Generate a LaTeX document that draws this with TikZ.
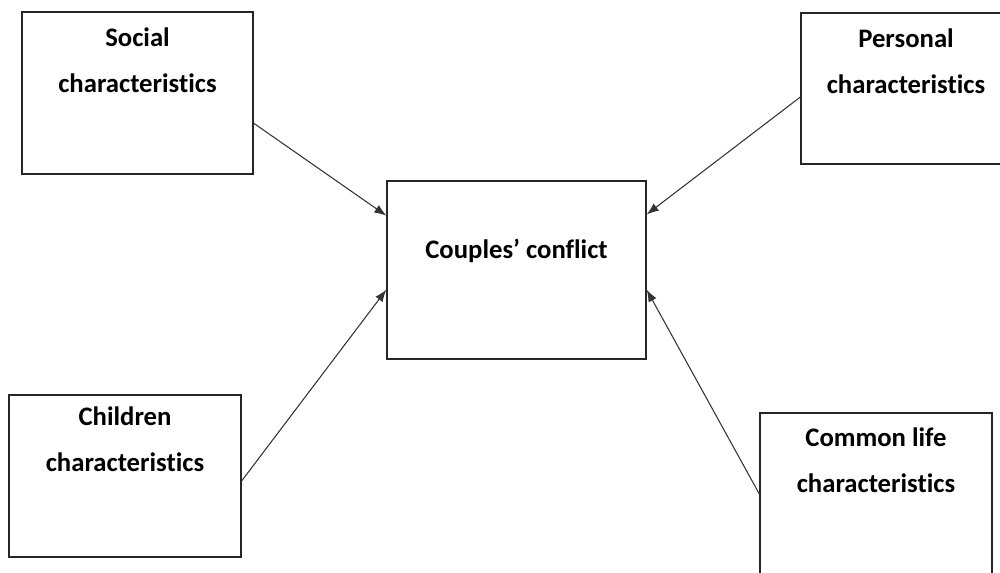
\documentclass[tikz,border=0pt]{standalone}
\usepackage{fontspec}
\setmainfont{Carlito}[Ligatures=NoCommon]
\usetikzlibrary{arrows.meta,positioning,calc}
\begin{document}
\begin{tikzpicture} [x=0.02cm,y=-0.02cm,
  box/.style={draw=black!85, line width=0.8pt, inner sep=0pt},
  lbl/.style={inner sep=0pt, align=center, font={\fontsize{15.2}{26.2}\selectfont\bfseries}},
  arr/.style={draw=black!80, line width=0.6pt, -{Latex[length=2.4mm,width=1.8mm]}}]
  \useasboundingbox (0,0) rectangle (1000,572);
% boxes
  \node [box, minimum width=4.62cm, minimum height=3.24cm] (social) at (137.5,93) {};
  \node [box, minimum width=4.2cm, minimum height=3.02cm] (personal) at (906,88.5) {};
  \node [box, minimum width=5.18cm, minimum height=3.56cm] (central) at (516.5,270) {};
  \node [box, minimum width=4.64cm, minimum height=3.24cm] (children) at (125,476) {};
  \node [box, minimum width=4.64cm, minimum height=3.24cm] (common) at (876,494) {};
% texts
  \node [lbl, below=9pt of social.north] (social-t) {Social\\characteristics};
  \node [lbl, below=9pt of personal.north] (personal-t) {Personal\\characteristics};
  \node [lbl, below=33pt of central.north] (central-t) {Couples’ conflict};
  \node [lbl, below=7pt of children.north] (children-t) {Children\\characteristics};
  \node [lbl, below=8.5pt of common.north] (common-t) {Common life\\characteristics};
% arrows
  \draw [arr] ($(social.north east)!0.685!(social.south east)$) -- ($(central.north west)!0.197!(central.south west)$);
  \draw [arr] ($(personal.north west)!0.556!(personal.south west)$) -- ($(central.north east)!0.19!(central.south east)$);
  \draw [arr] ($(children.north east)!0.53!(children.south east)$) -- ($(central.north west)!0.61!(central.south west)$);
  \draw [arr] (common.west) -- ($(central.north east)!0.61!(central.south east)$);
\end{tikzpicture}
\end{document}
